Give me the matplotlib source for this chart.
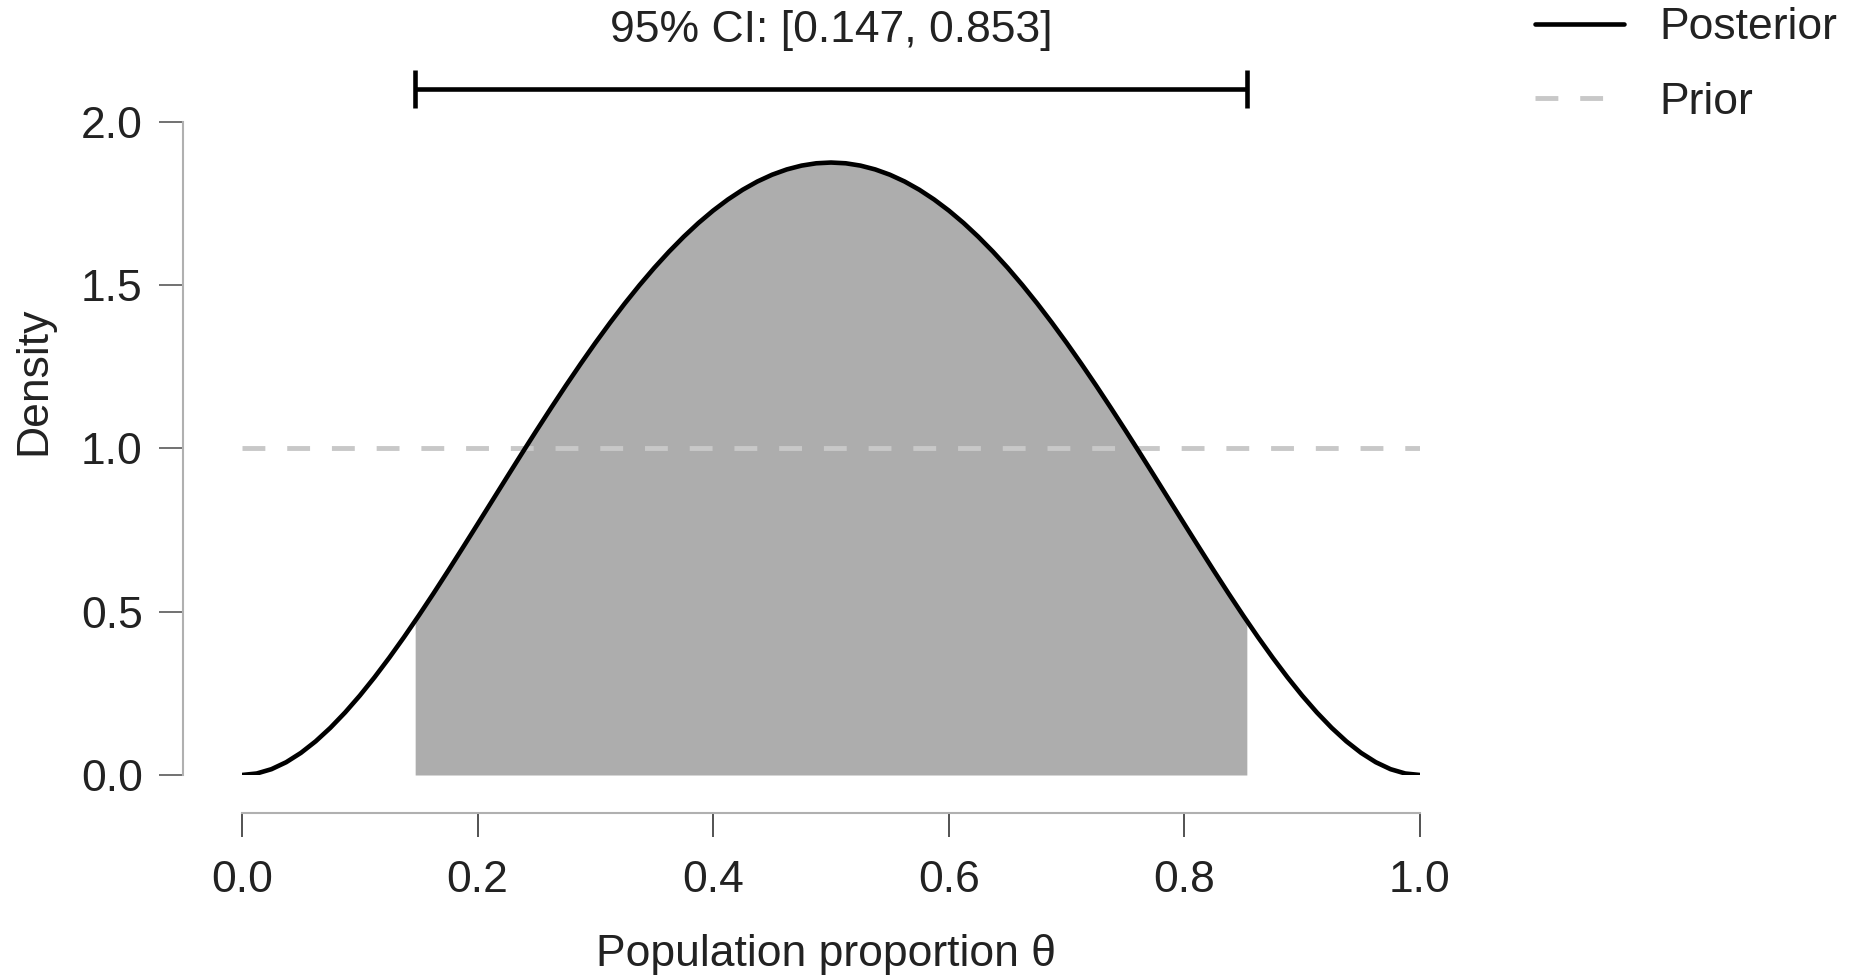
import matplotlib.pyplot as plt
import numpy as np

# posterior density (symmetric around 0.5)
theta = [0.0, 0.0125, 0.025, 0.0375, 0.05, 0.0625, 0.075, 0.0875, 0.1, 0.1125,
         0.125, 0.1375, 0.15, 0.1625, 0.175, 0.1875, 0.2, 0.2125, 0.225, 0.2375,
         0.25, 0.2625, 0.275, 0.2875, 0.3, 0.3125, 0.325, 0.3375, 0.35, 0.3625,
         0.375, 0.3875, 0.4, 0.4125, 0.425, 0.4375, 0.45, 0.4625, 0.475, 0.4875,
         0.5,
         0.5125, 0.525, 0.5375, 0.55, 0.5625, 0.575, 0.5875, 0.6, 0.6125, 0.625,
         0.6375, 0.65, 0.6625, 0.675, 0.6875, 0.7, 0.7125, 0.725, 0.7375, 0.75,
         0.7625, 0.775, 0.7875, 0.8, 0.8125, 0.825, 0.8375, 0.85, 0.8625, 0.875,
         0.8875, 0.9, 0.9125, 0.925, 0.9375, 0.95, 0.9625, 0.975, 0.9875, 1.0]
posterior = [0.0, 0.0046, 0.0178, 0.0391, 0.0677, 0.1030, 0.1444, 0.1913, 0.2430, 0.2991,
             0.3589, 0.4219, 0.4877, 0.5556, 0.6253, 0.6963, 0.7680, 0.8401, 0.9122, 0.9839,
             1.0547, 1.1243, 1.1925, 1.2588, 1.3230, 1.3847, 1.4438, 1.4998, 1.5527, 1.6021,
             1.6479, 1.6900, 1.7280, 1.7619, 1.7916, 1.8169, 1.8377, 1.8539, 1.8656, 1.8727,
             1.8750,
             1.8727, 1.8656, 1.8539, 1.8377, 1.8169, 1.7916, 1.7619, 1.7280, 1.6900, 1.6479,
             1.6021, 1.5527, 1.4998, 1.4438, 1.3847, 1.3230, 1.2588, 1.1925, 1.1243, 1.0547,
             0.9839, 0.9122, 0.8401, 0.7680, 0.6963, 0.6253, 0.5556, 0.4877, 0.4219, 0.3589,
             0.2991, 0.2430, 0.1913, 0.1444, 0.1030, 0.0677, 0.0391, 0.0178, 0.0046, 0.0]
prior_x = [0.0, 1.0]
prior = [1.0, 1.0]

ci = [0.147, 0.853]
ci_density = [0.472, 0.472]
ci_label = "95% CI: [0.147, 0.853]"

plt.rcParams['font.family'] = ['Liberation Sans', 'DejaVu Sans']
plt.rcParams['font.size'] = 32

fig = plt.figure(figsize=(18.52, 9.8), dpi=100)
ax = fig.add_axes([242 / 1852, 205 / 980, 1178 / 1852, 653.3 / 980])

# shaded credible interval
th = np.array(theta)
post = np.array(posterior)
inside = (th > ci[0]) & (th < ci[1])
fill_x = np.concatenate([[ci[0]], th[inside], [ci[1]]])
fill_y = np.concatenate([[ci_density[0]], post[inside], [ci_density[1]]])
ax.fill_between(fill_x, 0, fill_y, color="#adadad", lw=0)

ax.plot(prior_x, prior, color="#c8c8c8", lw=3.5, dashes=(4.7, 4.5), label="Prior")
ax.plot(theta, posterior, color="black", lw=3.3, label="Posterior",
        solid_capstyle="round")

# CI bar on top
mid = (ci[0] + ci[1]) / 2
ax.errorbar([mid], [2.1], xerr=[[mid - ci[0]], [ci[1] - mid]], color="black",
            lw=3.3, capsize=14, capthick=3.3, clip_on=False)
ax.text(mid, 2.28, ci_label, ha="center", va="center", color="#222222")

ax.set_xlim(0, 1)
ax.set_ylim(0, 2)
ax.set_xticks([0.0, 0.2, 0.4, 0.6, 0.8, 1.0])
ax.set_yticks([0.0, 0.5, 1.0, 1.5, 2.0])
ax.set_xticklabels(["0.0", "0.2", "0.4", "0.6", "0.8", "1.0"])
ax.set_yticklabels(["0.0", "0.5", "1.0", "1.5", "2.0"])

for s in ["top", "right"]:
    ax.spines[s].set_visible(False)
ax.spines["left"].set_position(("outward", 42.5))
ax.spines["bottom"].set_position(("outward", 27))
ax.spines["left"].set_bounds(0, 2)
ax.spines["bottom"].set_bounds(0, 1)
for s in ["left", "bottom"]:
    ax.spines[s].set_color("#b0b0b0")
    ax.spines[s].set_linewidth(1.5)
ax.tick_params(axis="y", length=17, width=1.3, color="#666666", pad=12,
               labelcolor="#222222")
ax.tick_params(axis="x", length=17, width=1.3, color="#444444", pad=17,
               labelcolor="#222222")

ax.set_xlabel("Population proportion θ", color="#222222")
ax.xaxis.set_label_coords(0.496, -0.274)
ax.xaxis.label.set_va("center")
ax.set_ylabel("Density", color="#222222")
ax.yaxis.set_label_coords(-0.177, 0.603)
ax.yaxis.label.set_va("center")

handles, labels = ax.get_legend_handles_labels()
order = [labels.index("Posterior"), labels.index("Prior")]
fig.legend([handles[i] for i in order], [labels[i] for i in order],
           loc="upper left", bbox_to_anchor=(1535 / 1852, 0.9925),
           frameon=False, borderpad=0, borderaxespad=0, handlelength=2.0,
           handletextpad=0.8, labelspacing=0.75, labelcolor="#222222")

fig.savefig("out.png", dpi=100)
